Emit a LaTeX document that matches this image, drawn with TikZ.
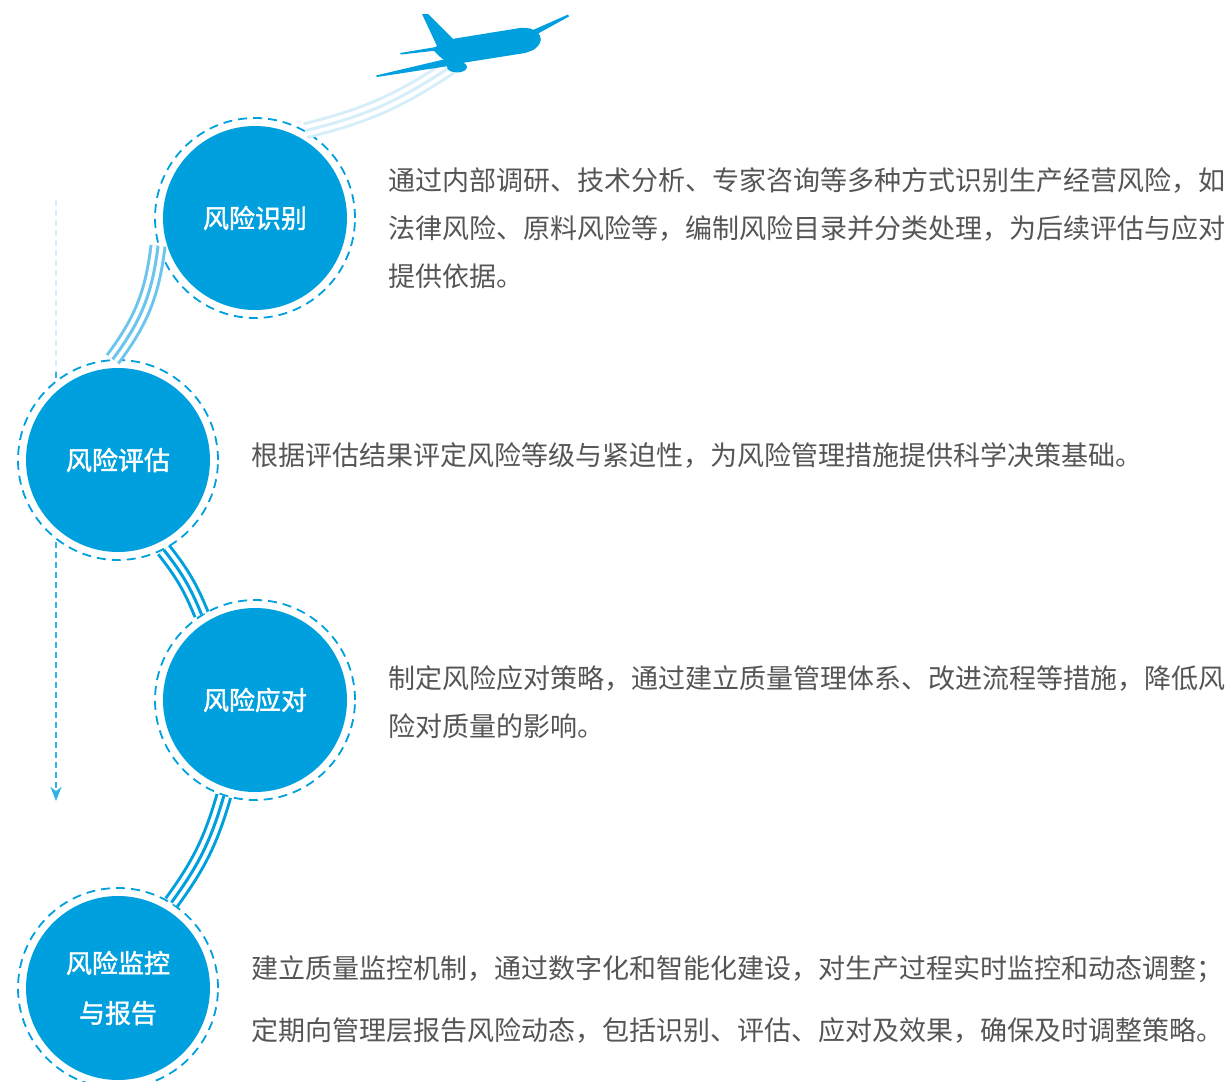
\documentclass[tikz,border=0pt]{standalone}
\usepackage{fontspec}
\setmainfont{Noto Sans CJK SC}
\newfontfamily\discfont{Noto Sans CJK SC}[FakeBold=1.6]
\usetikzlibrary{positioning,arrows.meta}
\XeTeXlinebreaklocale "zh"
\XeTeXlinebreakskip=0pt plus 4pt
\definecolor{riskblue}{RGB}{0,160,222}
\definecolor{lightblue}{RGB}{108,197,238}
\definecolor{paleblue}{RGB}{214,238,250}
\definecolor{textgray}{RGB}{85,85,85}
\newcommand{\fitline}[2]{\hbox to #1pt{#2}}
\tikzset{
  ring/.style={circle,minimum size=200pt,inner sep=0pt,draw=riskblue,line width=1.8pt,dash pattern=on 9pt off 6pt,fill=white},
  disc/.style={circle,minimum size=184pt,inner sep=0pt,fill=riskblue,text=white,align=center,font=\discfont\fontsize{26pt}{50pt}\selectfont},
  desc/.style={right=32pt of #1,inner sep=0pt,align=left,text=textgray,font=\fontsize{27pt}{48pt}\selectfont},
  trail/.style={line width=17pt,draw=#1,postaction={draw=white,line width=11pt},postaction={draw=#1,line width=3pt}},
}
\begin{document}
\begin{tikzpicture}[x=1pt,y=-1pt]
  \useasboundingbox (0,0) rectangle (1227,1082);
  \coordinate (atop) at (56,200); %pil foroven
  \coordinate (amid) at (56,372);
  \coordinate (aend) at (56,801);
  \draw[paleblue,line width=2pt,dash pattern=on 6pt off 4pt] (atop)--(amid);
  \draw[riskblue!80,line width=2pt,dash pattern=on 6pt off 4pt,-{Stealth[length=14pt,width=11pt,inset=4pt]}] (amid)--(aend); %pil
  \node[ring] (r1) at (255,218) {};
  \node[ring] (r2) at (118,460) {};
  \node[ring] (r3) at (255,700) {};
  \node[ring] (r4) at (118,988) {};
  \coordinate (tail) at (450,67); %spor til fly
  \draw[trail=paleblue] (r1.60) to[bend right=10] (tail);
  \draw[trail=lightblue] (r1.196) to[bend left=15] (r2.93);
  \draw[trail=riskblue] (r2.297) to[bend left=8] (r3.122);
  \draw[trail=riskblue] (r3.252) to[bend left=10] (r4.58);
  \node[disc] (c1) at (r1) {风险识别};
  \node[disc] (c2) at (r2) {风险评估};
  \node[disc] (c3) at (r3) {风险应对};
  \node[disc] (c4) at (r4) {风险监控\\与报告};
  % fly
  \fill[riskblue] (433,50) .. controls (440,42) .. (452,39) -- (520,28) .. controls (536,26) and (546,37) .. (538,46) .. controls (534,50) .. (525,53) -- (462,63) .. controls (445,62) .. (433,50) -- cycle;
  \fill[riskblue] (422,14) -- (428,14) -- (453,39) -- (437,46) -- cycle;
  \fill[riskblue] (400,53) -- (436,47) -- (437,50.5) -- (401,54.5) -- cycle;
  \fill[riskblue] (376,75.5) -- (450,58) -- (455,65) -- (377,77) -- cycle;
  \fill[riskblue] (524,34) -- (568,14.5) -- (569,16.5) -- (530,38) -- cycle;
  \fill[riskblue] (457,67) ellipse (10pt and 5.5pt);
  % tekster
  \node[desc=r1,yshift=-10pt] (t1) {\fitline{835}{通过内部调研、技术分析、专家咨询等多种方式识别生产经营风险，如}\\\fitline{835}{法律风险、原料风险等，编制风险目录并分类处理，为后续评估与应对}\\提供依据。};
  \node[desc=r2,yshift=5pt] (t2) {\fitline{887}{根据评估结果评定风险等级与紧迫性，为风险管理措施提供科学决策基础。}};
  \node[desc=r3,yshift=-2pt] (t3) {\fitline{835}{制定风险应对策略，通过建立质量管理体系、改进流程等措施，降低风}\\险对质量的影响。};
  \node[desc=r4,yshift=-11pt,font=\fontsize{27pt}{62pt}\selectfont] (t4) {\fitline{961}{建立质量监控机制，通过数字化和智能化建设，对生产过程实时监控和动态调整；}\\\fitline{967}{定期向管理层报告风险动态，包括识别、评估、应对及效果，确保及时调整策略。}};
\end{tikzpicture}
\end{document}
